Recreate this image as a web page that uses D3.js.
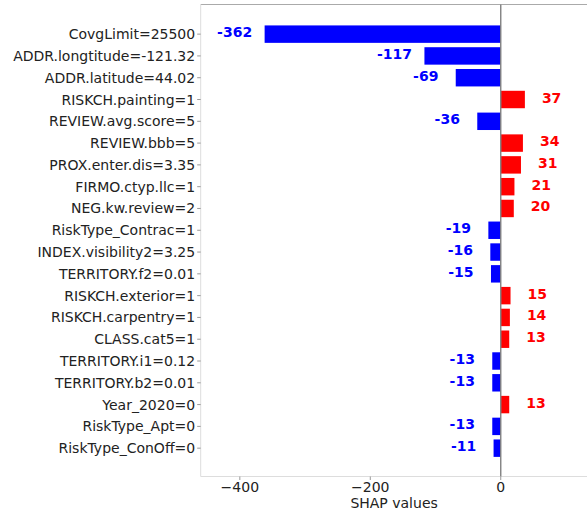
<!DOCTYPE html>
<html><head><meta charset="utf-8">
<script src="https://cdn.jsdelivr.net/npm/d3@7"></script>
<style>body{margin:0;background:#fff}svg{display:block}text{font-family:"DejaVu Sans",sans-serif}</style>
</head><body><svg id="c" width="587" height="512"></svg>
<script>
const features = ["CovgLimit=25500","ADDR.longtitude=-121.32","ADDR.latitude=44.02","RISKCH.painting=1","REVIEW.avg.score=5","REVIEW.bbb=5","PROX.enter.dis=3.35","FIRMO.ctyp.llc=1","NEG.kw.review=2","RiskType_Contrac=1","INDEX.visibility2=3.25","TERRITORY.f2=0.01","RISKCH.exterior=1","RISKCH.carpentry=1","CLASS.cat5=1","TERRITORY.i1=0.12","TERRITORY.b2=0.01","Year_2020=0","RiskType_Apt=0","RiskType_ConOff=0"];
const shapValues = [-362,-117,-69,37,-36,34,31,21,20,-19,-16,-15,15,14,13,-13,-13,13,-13,-11];
const xTicks = [-400,-200,0];
const xLabel = "SHAP values";

(function(){
const rows = features.map((f,i)=>({f, v: shapValues[i]}));
const svg = d3.select("#c");
const L = 200.7, R = 587.5, T = 4.5, B = 476.5;
const x = d3.scaleLinear().domain([-460, 133]).range([L, R]);
const n = rows.length;
const y = d3.scaleLinear().domain([-1.36, n - 1 + 1.3]).range([T, B]);
const rowH = y(1) - y(0);
const bh = rowH * 0.8;

// spines
svg.append("line").attr("x1",L).attr("x2",R).attr("y1",T).attr("y2",T).attr("stroke","#aaaaaa").attr("stroke-width",1);
svg.append("line").attr("x1",L).attr("x2",L).attr("y1",T).attr("y2",B).attr("stroke","#dddddd").attr("stroke-width",1);
svg.append("line").attr("x1",L).attr("x2",R).attr("y1",B).attr("y2",B).attr("stroke","#dddddd").attr("stroke-width",1);

// bars
svg.selectAll("rect.bar").data(rows).enter().append("rect")
  .attr("x", d => x(Math.min(0, d.v)))
  .attr("width", d => Math.abs(x(d.v) - x(0)))
  .attr("y", (d,i) => y(i) - bh/2)
  .attr("height", bh)
  .attr("fill", d => d.v < 0 ? "#0000ff" : "#ff0000");

// zero line
svg.append("line").attr("x1",x(0)).attr("x2",x(0)).attr("y1",T).attr("y2",B).attr("stroke","#808080").attr("stroke-width",1.4);

// value labels
svg.selectAll("text.val").data(rows).enter().append("text")
  .attr("x", d => d.v < 0 ? x(d.v - 46) : x(d.v + 41))
  .attr("y", (d,i) => y(i) + 3)
  .attr("text-anchor","middle")
  .attr("font-size", 14).attr("font-weight","bold")
  .attr("fill", d => d.v < 0 ? "#0000ff" : "#ff0000")
  .text(d => d.v);

// y axis labels + ticks
svg.selectAll("line.yt").data(rows).enter().append("line")
  .attr("x1", L - 3.5).attr("x2", L).attr("y1",(d,i)=>y(i)).attr("y2",(d,i)=>y(i)).attr("stroke","#999");
svg.selectAll("text.yl").data(rows).enter().append("text")
  .attr("x", L - 5.5).attr("y",(d,i)=>y(i)+5)
  .attr("text-anchor","end").attr("font-size",14).attr("fill","#222")
  .text(d=>d.f);

// x axis ticks
xTicks.forEach(t=>{
  svg.append("line").attr("x1",x(t)).attr("x2",x(t)).attr("y1",B).attr("y2",B+3.5).attr("stroke","#999");
  svg.append("text").attr("x",x(t)).attr("y",B+15).attr("text-anchor","middle").attr("font-size",14).attr("fill","#222")
    .text(t<0 ? "\u2212"+Math.abs(t) : String(t));
});
svg.append("text").attr("x",(L+R)/2).attr("y",B+31.5).attr("text-anchor","middle").attr("font-size",14).attr("fill","#222").text(xLabel);
})();
</script></body></html>
